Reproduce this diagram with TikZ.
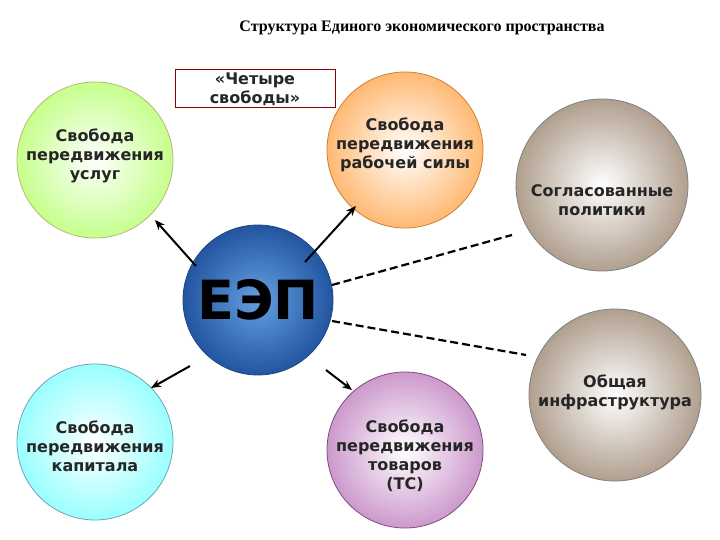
\documentclass[tikz,border=0pt]{standalone}
\usepackage{fontspec}
\setmainfont{Liberation Serif}
\newfontfamily\lab{DejaVu Sans}
\usetikzlibrary{arrows.meta}
\begin{document}
\begin{tikzpicture}[x=1pt,y=-1pt,
  circ/.style={circle,minimum size=#1,inner sep=0pt,draw=gray!60,line width=0.8pt},
  ltxt/.style={font=\lab\bfseries\fontsize{16}{19}\selectfont,align=center,text=black!85},
  arr/.style={-{Stealth[length=10pt,width=8pt]},line width=2pt},
  dsh/.style={dashed,dash pattern=on 8pt off 4pt,line width=2.2pt}]
\useasboundingbox (0,0) rectangle (720,540);
\node (title) at (422,28) {\fontsize{16}{20}\selectfont\bfseries Структура Единого экономического пространства};
\node[draw=red!55!black,line width=1pt,minimum width=160,minimum height=38,ltxt,inner sep=1pt] (box) at (255,89) {«Четыре\\свободы»};
\node[circ=156,inner color=white,outer color=yellow!50!green!45,draw=yellow!40!gray] (c1) at (95,160) {};
\node[ltxt] at (95,156) {Свобода\\передвижения\\услуг};
\node[circ=156,inner color=white,outer color=orange!55,draw=orange!60!gray] (c2) at (405,150) {};
\node[ltxt] at (405,145) {Свобода\\передвижения\\рабочей силы};
\node[circ=172,inner color=white,outer color=brown!35!gray!75,draw=gray] (c3) at (602,185) {};
\node[ltxt] at (602,200) {Согласованные\\политики};
\node[circ=150,inner color={rgb,255:red,100;green,160;blue,225},outer color={rgb,255:red,35;green,85;blue,160},draw={rgb,255:red,30;green,70;blue,130}] (c0) at (258,300) {};
\node[font=\lab\bfseries\fontsize{54}{58}\selectfont] at (258,300) {ЕЭП};
\node[circ=156,inner color=white,outer color=cyan!40,draw=cyan!40!gray] (c4) at (95,442) {};
\node[ltxt] at (95,446) {Свобода\\передвижения\\капитала};
\node[circ=156,inner color=white,outer color=violet!40,draw=violet!40!gray] (c5) at (405,450) {};
\node[ltxt] at (405,456) {Свобода\\передвижения\\товаров\\(ТС)};
\node[circ=172,inner color=white,outer color=brown!35!gray!75,draw=gray] (c6) at (615,395) {};
\node[ltxt] at (615,392) {Общая\\инфраструктура};
\coordinate (a1) at (196,266); \coordinate (b1) at (155,220);
\coordinate (a2) at (305,262); \coordinate (b2) at (356,206);
\coordinate (a3) at (190,366); \coordinate (b3) at (151,388);
\coordinate (a4) at (326,370); \coordinate (b4) at (352,390);
\draw[arr] (a1) -- (b1);
\draw[arr] (a2) -- (b2);
\draw[arr] (a3) -- (b3);
\draw[arr] (a4) -- (b4);
\coordinate (d1) at (332,285); \coordinate (e1) at (512,235);
\coordinate (d2) at (332,321); \coordinate (e2) at (526,355);
\draw[dsh] (d1) -- (e1);
\draw[dsh] (d2) -- (e2);
\end{tikzpicture}
\end{document}
